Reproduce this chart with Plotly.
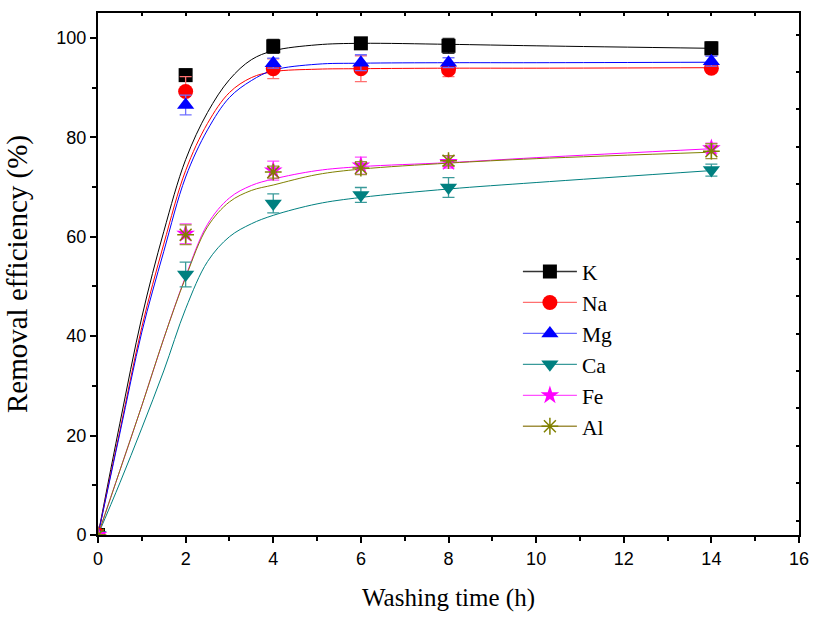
import plotly.graph_objects as go

# ---- measured data points ----
t_data = [0, 2, 4, 6, 8, 14]
K  = [0, 92.5, 98.3, 98.9, 98.4, 97.9]
Na = [0, 89.2, 93.8, 93.8, 93.6, 93.9]
Mg = [0, 86.5, 94.9, 95.0, 95.0, 95.3]
Ca = [0, 52.4, 66.7, 68.4, 69.9, 73.4]
Fe = [0, 60.6, 73.3, 74.3, 75.0, 77.8]
Al = [0, 60.4, 73.0, 73.8, 75.3, 77.2]

K_err  = [0, 1.2, 1.4, 0.5, 1.5, 1.3]
Na_err = [0, 3.0, 2.0, 2.6, 1.4, 0.8]
Mg_err = [0, 2.0, 1.0, 1.6, 1.0, 1.0]
Ca_err = [0, 2.5, 1.9, 1.5, 2.0, 1.2]
Fe_err = [0, 2.0, 1.9, 1.7, 1.2, 1.0]
Al_err = [0, 2.0, 1.2, 1.3, 1.0, 1.5]

# ---- fitted curves ----
t_fit = [0, 0.5, 1.0, 1.5, 2.0, 2.5, 3.0, 3.5, 4.0, 5.0, 6.0, 8.0, 10.0, 14.0]
K_fit  = [0, 22.5, 43.8, 61.0, 75.5, 85.0, 91.6, 95.6, 97.4, 98.6, 98.9, 98.7, 98.4, 97.9]
Na_fit = [0, 21.0, 41.8, 58.5, 73.3, 82.8, 89.0, 92.0, 93.2, 93.7, 93.8, 93.9, 93.9, 94.0]
Mg_fit = [0, 20.5, 40.8, 57.0, 72.0, 81.5, 88.0, 91.4, 93.5, 94.7, 94.9, 95.0, 95.0, 95.1]
Ca_fit = [0, 10.5, 21.5, 33.0, 45.5, 55.0, 60.0, 62.6, 64.3, 66.6, 67.9, 69.6, 70.9, 73.3]
Fe_fit = [0, 13.0, 26.0, 39.5, 52.0, 62.5, 67.8, 70.3, 71.6, 73.3, 74.1, 74.9, 75.9, 77.7]
Al_fit = [0, 13.0, 26.0, 39.5, 51.8, 62.0, 67.0, 69.3, 70.4, 72.5, 73.6, 74.8, 75.7, 77.0]

names = ["K", "Na", "Mg", "Ca", "Fe", "Al"]
vals = [K, Na, Mg, Ca, Fe, Al]
errs = [K_err, Na_err, Mg_err, Ca_err, Fe_err, Al_err]
fits = [K_fit, Na_fit, Mg_fit, Ca_fit, Fe_fit, Al_fit]

colors = ["#000000", "#ff0000", "#0000ff", "#008080", "#ff00ff", "#808000"]
light = ["#333333", "#ff7070", "#7070ff", "#3a9a9a", "#ff50ff", "#a09040"]
symbols = ["square", "circle", "triangle-up", "triangle-down", "star", "asterisk-open"]
sizes = [14, 15, 15, 15, 14, 14]

SERIF = "Liberation Serif"
SANS = "Liberation Sans"

fig = go.Figure()

for n, f, c in zip(names, fits, colors):
    fig.add_trace(go.Scatter(x=t_fit, y=f, mode="lines", line=dict(color=c, width=1, shape="spline", smoothing=1.0),
                             showlegend=False, hoverinfo="skip"))

for n, v, e, c, lc, s, sz in zip(names, vals, errs, colors, light, symbols, sizes):
    xs, ys, es = [], [], []
    for a, b, d in zip(t_data, v, e):
        xs += [a, None]
        ys += [b, None]
        es += [d, None]
    mk = dict(symbol=s, size=sz, color=c)
    if s == "asterisk-open":
        mk["line"] = dict(color=c, width=1.5)
    fig.add_trace(go.Scatter(x=xs, y=ys, name=n, mode="lines+markers", connectgaps=False,
                             line=dict(color=lc, width=1.3), marker=mk,
                             error_y=dict(type="data", array=es, visible=True, color=lc, thickness=1.3, width=6)))

# mirrored top / right ticks (inside)
fig.add_trace(go.Scatter(x=[None], y=[None], xaxis="x2", yaxis="y2", showlegend=False))

fig.update_layout(
    width=815, height=617,
    margin=dict(l=98, r=16, t=13, b=82, autoexpand=False),
    paper_bgcolor="white", plot_bgcolor="white",
    showlegend=True,
    legend=dict(x=0.599, y=0.544, xanchor="left", yanchor="top", bgcolor="rgba(0,0,0,0)",
                font=dict(family=SERIF, size=21.5, color="black"), tracegroupgap=0, itemwidth=54),
    xaxis=dict(range=[0, 16], dtick=2, tick0=0, showgrid=False, zeroline=False, automargin=False,
               showline=True, linecolor="black", linewidth=2, ticks="outside", ticklen=6, tickwidth=2,
               tickcolor="black", tickfont=dict(family=SANS, size=18, color="black"),
               minor=dict(dtick=1, ticks="outside", ticklen=4, tickwidth=2, tickcolor="black"),
               title=dict(text="Washing time (h)", font=dict(family=SERIF, size=25, color="black"), standoff=21)),
    yaxis=dict(range=[0, 105], dtick=20, tick0=0, showgrid=False, zeroline=False, automargin=False,
               showline=True, linecolor="black", linewidth=2, ticks="outside", ticklen=6, tickwidth=2,
               tickcolor="black", tickfont=dict(family=SANS, size=18, color="black"),
               minor=dict(dtick=10, ticks="outside", ticklen=4, tickwidth=2, tickcolor="black"),
               title=dict(text="Removal efficiency (%)", font=dict(family=SERIF, size=29, color="black"), standoff=20)),
    xaxis2=dict(range=[0, 16], overlaying="x", side="top", dtick=1, tick0=0, showgrid=False, zeroline=False,
                automargin=False,
                showline=True, linecolor="black", linewidth=2, ticks="inside", ticklen=3, tickwidth=1.5,
                tickcolor="black", showticklabels=False),
    yaxis2=dict(range=[0, 105], overlaying="y", side="right", dtick=7.52, tick0=2.9, showgrid=False, zeroline=False,
                automargin=False,
                showline=True, linecolor="black", linewidth=2, ticks="inside", ticklen=3, tickwidth=1.5,
                tickcolor="black", showticklabels=False),
)

fig.write_html("out.html")
